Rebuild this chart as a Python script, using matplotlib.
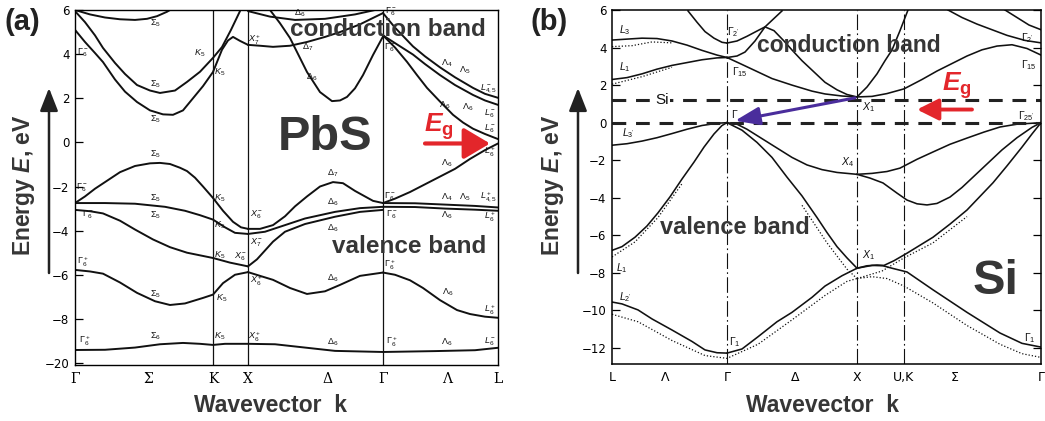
import matplotlib
matplotlib.use("Agg")
import matplotlib.pyplot as plt
from matplotlib.patches import FancyArrowPatch

plt.rcParams["font.family"] = ["Liberation Sans", "DejaVu Sans"]
plt.rcParams["mathtext.fontset"] = "custom"
plt.rcParams["mathtext.rm"] = "Liberation Sans"
plt.rcParams["mathtext.it"] = "Liberation Sans:italic"
plt.rcParams["mathtext.bf"] = "Liberation Sans:bold"
plt.rcParams["mathtext.bfit"] = "Liberation Sans:italic:bold"

# ── colours ────
INK    = "#111111"
LABEL  = "#363636"
RED    = "#e3262b"
PURPLE = "#4a2d9c"

# ── (a) PbS : k path Γ-Σ-K-X-Δ-Γ-Λ-L ────
pbs_kpts   = [0.0, 0.73, 1.38, 1.73, 2.52, 3.08, 3.72, 4.23]
pbs_klabel = ["Γ", "Σ", "K", "X", "Δ", "Γ", "Λ", "L"]
pbs_kvert  = [1.38, 1.73, 3.08]
pbs_yticks = [6, 4, 2, 0, -2, -4, -6, -8, -10]
pbs_ylabel = ["6", "4", "2", "0", "−2", "−4", "−6", "−8", "−20"]

# conduction bands (k, E)
pbs_c_sig_a = [(0.0, 6.0), (0.15, 5.8), (0.3, 5.66), (0.45, 5.58), (0.6, 5.55),
               (0.72, 5.6), (0.82, 5.72), (0.92, 5.92), (0.95, 6.0)]
pbs_c_sig_b = [(0.0, 5.95), (0.1, 5.45), (0.2, 4.85), (0.28, 4.28), (0.4, 3.6),
               (0.5, 3.1), (0.62, 2.6), (0.75, 2.35), (0.85, 2.24), (1.0, 2.35),
               (1.12, 2.74), (1.25, 3.2), (1.38, 3.83), (1.47, 4.32), (1.56, 5.1),
               (1.65, 5.95)]
pbs_c_sig_c = [(0.0, 5.1), (0.1, 4.55), (0.2, 4.05), (0.28, 3.64), (0.4, 2.85),
               (0.5, 2.3), (0.62, 1.83), (0.75, 1.45), (0.88, 1.27), (0.98, 1.25),
               (1.08, 1.45), (1.18, 2.0), (1.28, 2.55), (1.38, 3.19), (1.47, 4.2),
               (1.53, 4.62), (1.58, 4.78), (1.65, 4.6), (1.73, 4.42)]
pbs_c_x7    = [(1.73, 4.42), (1.85, 4.38), (1.98, 4.33), (2.15, 4.38), (2.32, 4.55),
               (2.5, 4.78), (2.65, 5.0), (2.85, 5.35), (2.98, 5.64), (3.08, 5.86)]
pbs_c_dtop  = [(1.73, 5.95), (1.95, 5.7), (2.2, 5.55), (2.5, 5.6), (2.8, 5.8),
               (3.0, 6.0)]
pbs_c_d6    = [(1.95, 6.0), (2.05, 5.4), (2.15, 4.73), (2.32, 3.19), (2.45, 2.28),
               (2.57, 1.87), (2.65, 1.9), (2.72, 2.06), (2.8, 2.45), (2.88, 3.05),
               (2.98, 3.96), (3.08, 4.8)]
pbs_c_l1    = [(3.08, 5.86), (3.2, 5.2), (3.38, 4.35), (3.5, 3.9), (3.65, 3.4),
               (3.8, 2.95), (3.98, 2.47), (4.1, 2.2), (4.23, 2.02)]
pbs_c_l2    = [(3.08, 4.85), (3.2, 4.5), (3.38, 3.98), (3.5, 3.55), (3.65, 3.05),
               (3.8, 2.6), (3.98, 2.15), (4.1, 1.9), (4.23, 1.7)]
pbs_c_l3    = [(3.08, 4.85), (3.2, 4.3), (3.32, 3.65), (3.42, 3.05), (3.52, 2.47),
               (3.65, 1.85), (3.78, 1.25), (3.88, 0.9), (3.98, 0.62), (4.1, 0.38),
               (4.23, 0.15)]

# valence bands (k, E)
pbs_v_sig1 = [(0.0, -2.75), (0.1, -2.45), (0.2, -2.1), (0.3, -1.8), (0.45, -1.35),
              (0.6, -1.07), (0.75, -0.95), (0.85, -0.93), (0.95, -0.98), (1.05, -1.15),
              (1.12, -1.3), (1.2, -1.6), (1.28, -2.0), (1.38, -2.52), (1.48, -3.1),
              (1.58, -3.6), (1.66, -3.85), (1.73, -3.92)]
pbs_v_sig2 = [(0.0, -2.75), (0.3, -2.75), (0.6, -2.78), (0.9, -2.92), (1.1, -3.1),
              (1.25, -3.3), (1.38, -3.5), (1.5, -3.85), (1.6, -4.1), (1.73, -4.15)]
pbs_v_sig3 = [(0.0, -3.06), (0.15, -3.12), (0.28, -3.22), (0.45, -3.55), (0.6, -3.95),
              (0.78, -4.4), (0.95, -4.75), (1.12, -5.0), (1.38, -5.24), (1.55, -5.45),
              (1.73, -5.62)]
pbs_v_sig4 = [(0.0, -5.78), (0.15, -5.85), (0.28, -5.95), (0.45, -6.35), (0.62, -6.82),
              (0.8, -7.2), (0.95, -7.37), (1.1, -7.3), (1.28, -7.05), (1.38, -6.9),
              (1.48, -6.38), (1.6, -6.0), (1.73, -5.88)]
pbs_v_deep = [(0.0, -9.41), (0.3, -9.4), (0.6, -9.3), (0.85, -9.15), (1.08, -9.09),
              (1.25, -9.13), (1.38, -9.18), (1.5, -9.13), (1.73, -9.13), (2.0, -9.15),
              (2.3, -9.3), (2.6, -9.45), (3.08, -9.5), (3.6, -9.46), (4.0, -9.42),
              (4.23, -9.31)]
pbs_v_d7   = [(1.73, -3.92), (1.85, -3.92), (1.98, -3.75), (2.1, -3.35), (2.2, -2.9),
              (2.32, -2.45), (2.45, -2.0), (2.58, -1.8), (2.68, -1.85), (2.8, -2.2),
              (2.98, -2.65), (3.08, -2.75)]
pbs_v_d6a  = [(1.73, -4.15), (1.9, -4.05), (2.1, -3.75), (2.3, -3.45), (2.6, -3.15),
              (2.85, -2.98), (3.08, -2.92)]
pbs_v_d6b  = [(1.73, -5.62), (1.82, -5.3), (1.9, -4.9), (1.98, -4.5), (2.1, -4.05),
              (2.3, -3.7), (2.6, -3.37), (2.85, -3.15), (3.08, -3.06)]
pbs_v_d6c  = [(1.73, -5.88), (1.85, -6.05), (1.98, -6.23), (2.15, -6.6), (2.32, -6.87),
              (2.5, -6.75), (2.65, -6.46), (2.85, -6.05), (3.08, -5.9)]
pbs_v_l1   = [(3.08, -2.75), (3.2, -2.55), (3.35, -2.25), (3.5, -1.9), (3.65, -1.55),
              (3.8, -1.2), (3.95, -0.75), (4.1, -0.35), (4.23, -0.05)]
pbs_v_l2   = [(3.08, -2.75), (3.4, -2.76), (3.7, -2.82), (4.0, -2.88), (4.23, -2.95)]
pbs_v_l3   = [(3.08, -2.92), (3.4, -2.93), (3.7, -3.0), (4.0, -3.05), (4.23, -3.1)]
pbs_v_l4   = [(3.08, -5.9), (3.2, -6.0), (3.35, -6.25), (3.48, -6.6), (3.65, -7.15),
              (3.82, -7.6), (3.95, -7.78), (4.1, -7.9), (4.23, -7.95)]

pbs_bands = [pbs_c_sig_a, pbs_c_sig_b, pbs_c_sig_c, pbs_c_x7, pbs_c_dtop, pbs_c_d6,
             pbs_c_l1, pbs_c_l2, pbs_c_l3, pbs_v_sig1, pbs_v_sig2, pbs_v_sig3,
             pbs_v_sig4, pbs_v_deep, pbs_v_d7, pbs_v_d6a, pbs_v_d6b, pbs_v_d6c,
             pbs_v_l1, pbs_v_l2, pbs_v_l3, pbs_v_l4]

pbs_tags = [
    (0.80, 5.38, r"$\Sigma_5$"), (0.08, 4.05, r"$\Gamma_6^-$"), (1.25, 4.05, r"$K_5$"),
    (1.45, 3.2, r"$K_5$"), (1.8, 4.65, r"$X_7^+$"), (0.80, 2.62, r"$\Sigma_5$"),
    (0.80, 1.05, r"$\Sigma_5$"), (0.80, -0.55, r"$\Sigma_5$"), (2.37, 2.96, r"$\Delta_6$"),
    (2.33, 4.3, r"$\Delta_7$"), (2.25, 5.85, r"$\Delta_6$"), (3.15, 4.3, r"$\Gamma_6^-$"),
    (3.16, 5.9, r"$\Gamma_6^-$"), (3.72, 3.6, r"$\Lambda_4$"), (3.9, 3.28, r"$\Lambda_5$"),
    (4.13, 2.45, r"$L_{4,5}^-$"), (3.7, 1.7, r"$\Lambda_6$"), (3.93, 1.6, r"$\Lambda_6$"),
    (4.15, 1.3, r"$L_6^-$"), (4.15, 0.62, r"$L_6^-$"), (4.15, -0.45, r"$L_6^+$"),
    (3.72, -0.93, r"$\Lambda_6$"), (2.58, -1.4, r"$\Delta_7$"), (3.15, -2.47, r"$\Gamma_6^-$"),
    (3.72, -2.47, r"$\Lambda_4$"), (3.9, -2.47, r"$\Lambda_5$"), (4.13, -2.47, r"$L_{4,5}^+$"),
    (0.07, -2.07, r"$\Gamma_6^-$"), (0.80, -2.52, r"$\Sigma_5$"), (1.45, -2.52, r"$K_5$"),
    (2.58, -2.72, r"$\Delta_6$"), (0.13, -3.3, r"$\Gamma_6^-$"), (0.80, -3.3, r"$\Sigma_5$"),
    (1.45, -3.74, r"$K_5$"), (1.82, -3.3, r"$X_6^-$"), (2.58, -3.88, r"$\Delta_6$"),
    (3.17, -3.3, r"$\Gamma_6^-$"), (3.72, -3.3, r"$\Lambda_6$"), (4.15, -3.4, r"$L_6^+$"),
    (1.82, -4.56, r"$X_7^-$"), (1.45, -5.1, r"$K_5$"), (1.66, -5.2, r"$X_6^-$"),
    (0.08, -5.42, r"$\Gamma_6^+$"), (1.82, -6.3, r"$X_6^+$"), (2.58, -6.15, r"$\Delta_6$"),
    (3.15, -5.55, r"$\Gamma_6^+$"), (3.73, -6.78, r"$\Lambda_6$"), (0.80, -6.9, r"$\Sigma_5$"),
    (1.47, -7.05, r"$K_5$"), (4.15, -7.6, r"$L_6^+$"), (0.10, -9.0, r"$\Gamma_6^+$"),
    (0.80, -8.8, r"$\Sigma_6$"), (1.45, -8.8, r"$K_5$"), (1.8, -8.8, r"$X_6^+$"),
    (2.58, -9.05, r"$\Delta_6$"), (3.17, -9.05, r"$\Gamma_6^+$"), (3.72, -9.05, r"$\Lambda_6$"),
    (4.15, -9.05, r"$L_6^-$"),
]

# ── (b) Si : k path L-Λ-Γ-Δ-X-U,K-Σ-Γ ────
si_kpts   = [0.0, 0.53, 1.15, 1.83, 2.45, 2.92, 3.43, 4.29]
si_klabel = ["L", "Λ", "Γ", "Δ", "X", "U,K", "Σ", "Γ"]
si_kvert  = [1.15, 2.45, 2.92]
si_yticks = [6, 4, 2, 0, -2, -4, -6, -8, -10, -12]
si_ylabel = ["6", "4", "2", "0", "−2", "−4", "−6", "−8", "−10", "−12"]
si_gap_top = 1.2
si_gap_bottom = 0.0

si_c_l3    = [(0.0, 4.4), (0.15, 4.45), (0.3, 4.5), (0.45, 4.48), (0.6, 4.35),
              (0.75, 4.13), (0.9, 3.85), (1.05, 3.6), (1.15, 3.47)]
si_c_l1    = [(0.0, 2.3), (0.15, 2.4), (0.3, 2.6), (0.45, 2.85), (0.6, 3.05),
              (0.75, 3.2), (0.9, 3.35), (1.05, 3.45), (1.15, 3.47)]
si_c_g2l   = [(0.76, 5.95), (0.85, 5.35), (0.93, 4.85), (1.02, 4.5), (1.1, 4.28),
              (1.15, 4.24)]
si_c_g2r   = [(1.15, 4.24), (1.25, 4.35), (1.35, 4.6), (1.45, 4.88), (1.53, 5.1),
              (1.62, 4.9), (1.72, 4.35), (1.8, 3.87), (1.9, 3.3), (2.0, 2.8),
              (2.13, 2.15), (2.25, 1.75), (2.35, 1.5), (2.45, 1.37)]
si_c_up    = [(1.15, 3.47), (1.25, 3.55), (1.33, 3.76), (1.43, 4.35), (1.53, 5.1),
              (1.62, 5.55), (1.7, 5.95)]
si_c_xg    = [(1.15, 3.47), (1.28, 3.15), (1.46, 2.7), (1.6, 2.35), (1.8, 2.0),
              (2.0, 1.68), (2.13, 1.53), (2.3, 1.42), (2.45, 1.37)]
si_c_xu    = [(2.45, 1.37), (2.55, 1.9), (2.65, 2.6), (2.73, 3.3), (2.8, 3.87),
              (2.88, 4.9), (2.96, 6.0)]
si_c_sig   = [(2.45, 1.37), (2.6, 1.4), (2.75, 1.55), (2.92, 1.8), (3.1, 2.3),
              (3.25, 2.75), (3.4, 3.15), (3.55, 3.55), (3.7, 3.88), (3.85, 4.08),
              (4.0, 4.15), (4.15, 3.95), (4.29, 3.6)]
si_c_top1  = [(3.36, 6.0), (3.5, 5.6), (3.65, 5.25), (3.8, 4.95), (3.95, 4.65),
              (4.13, 4.38), (4.29, 4.25)]
si_c_top2  = [(3.93, 6.0), (4.05, 5.6), (4.17, 5.2), (4.29, 4.95)]

si_v_l3    = [(0.0, -1.2), (0.15, -1.12), (0.3, -0.98), (0.45, -0.8), (0.6, -0.58),
              (0.75, -0.35), (0.9, -0.15), (1.05, -0.03), (1.15, 0.0)]
si_v_l1    = [(0.0, -6.8), (0.1, -6.6), (0.23, -6.1), (0.35, -5.5), (0.46, -4.8),
              (0.58, -3.95), (0.7, -3.0), (0.82, -2.1), (0.92, -1.3), (1.02, -0.6),
              (1.1, -0.15), (1.15, 0.0)]
si_v_lg1   = [(0.0, -9.55), (0.1, -9.65), (0.26, -9.97), (0.4, -10.45), (0.6, -11.04),
              (0.8, -11.65), (0.93, -12.1), (1.05, -12.25), (1.15, -12.27)]
si_v_gx1   = [(1.15, -12.27), (1.3, -12.05), (1.46, -11.4), (1.65, -10.6), (1.8, -10.1),
              (2.0, -9.3), (2.13, -8.7), (2.3, -8.15), (2.45, -7.75)]
si_v_steep = [(1.15, 0.0), (1.3, -0.4), (1.45, -1.05), (1.6, -1.85), (1.75, -2.9),
              (1.9, -3.9), (2.05, -5.05), (2.15, -5.85), (2.25, -6.6), (2.35, -7.2),
              (2.45, -7.75)]
si_v_gx4   = [(1.15, 0.0), (1.25, -0.08), (1.35, -0.35), (1.5, -0.85), (1.65, -1.35),
              (1.8, -1.85), (1.95, -2.25), (2.1, -2.5), (2.25, -2.65), (2.45, -2.75)]
si_v_xk_up = [(2.45, -2.75), (2.6, -2.7), (2.75, -2.6), (2.88, -2.42), (3.05, -1.95),
              (3.21, -1.56), (3.38, -1.15), (3.55, -0.82), (3.72, -0.5), (3.88, -0.23),
              (4.05, -0.08), (4.29, 0.0)]
si_v_xk_lo = [(2.45, -2.75), (2.58, -2.95), (2.71, -3.21), (2.85, -3.75), (2.95, -4.12),
              (3.05, -4.32), (3.15, -4.38), (3.25, -4.3), (3.38, -3.96), (3.5, -3.45),
              (3.61, -2.9), (3.75, -2.2), (3.9, -1.45), (4.05, -0.8), (4.2, -0.25),
              (4.29, 0.0)]
si_v_x1_up = [(2.45, -7.75), (2.55, -7.62), (2.65, -7.58), (2.72, -7.6), (2.82, -7.35),
              (2.95, -6.95), (3.21, -6.1), (3.38, -5.4), (3.55, -4.65), (3.81, -3.2),
              (3.95, -2.3), (4.1, -1.3), (4.2, -0.6), (4.29, 0.0)]
si_v_x1_lo = [(2.45, -7.75), (2.6, -7.6), (2.71, -7.62), (2.8, -7.75), (2.95, -7.95),
              (3.21, -8.9), (3.55, -10.1), (3.88, -11.2), (4.1, -11.75), (4.29, -11.95)]

si_bands = [si_c_l3, si_c_l1, si_c_g2l, si_c_g2r, si_c_up, si_c_xg, si_c_xu, si_c_sig,
            si_c_top1, si_c_top2, si_v_l3, si_v_l1, si_v_lg1, si_v_gx1, si_v_steep,
            si_v_gx4, si_v_xk_up, si_v_xk_lo, si_v_x1_up, si_v_x1_lo]

# dotted comparison curves
si_d_low_l = [(0.0, -10.2), (0.26, -10.6), (0.6, -11.6), (0.93, -12.4), (1.15, -12.55),
              (1.46, -11.8), (1.8, -10.5), (2.13, -9.2), (2.35, -8.45), (2.45, -8.3)]
si_d_low_r = [(2.45, -8.3), (2.6, -8.2), (2.75, -8.3), (2.92, -8.7), (3.21, -9.6),
              (3.55, -10.8), (3.88, -11.8), (4.1, -12.3), (4.29, -12.5)]
si_d_l1    = [(0.0, -7.15), (0.23, -6.35), (0.46, -5.05), (0.7, -3.25)]
si_d_steep = [(1.9, -4.4), (2.15, -6.4), (2.35, -7.8), (2.45, -8.3)]
si_d_x1_up = [(2.45, -8.3), (2.7, -7.9), (2.92, -7.2), (3.21, -6.4), (3.55, -5.0)]
si_d_c_l3  = [(0.0, 4.05), (0.2, 4.1), (0.4, 4.3), (0.6, 4.25)]
si_d_c_l1  = [(0.0, 2.05), (0.3, 2.45), (0.6, 2.95)]
si_dotted = [si_d_low_l, si_d_low_r, si_d_l1, si_d_steep, si_d_x1_up, si_d_c_l3, si_d_c_l1]

si_tags = [
    (0.13, 4.93, r"$L_3$"), (0.13, 2.96, r"$L_1$"), (1.21, 4.83, r"$\Gamma_{2'}$"),
    (1.28, 2.7, r"$\Gamma_{15}$"), (0.16, -0.55, r"$L_{3'}$"), (4.15, 4.5, r"$\Gamma_{2'}$"),
    (4.17, 3.07, r"$\Gamma_{15}$"), (2.56, 0.83, r"$X_1$"), (4.14, 0.36, r"$\Gamma_{25'}$"),
    (2.35, -2.1, r"$X_4$"), (0.1, -7.74, r"$L_1$"), (0.13, -9.3, r"$L_{2'}$"),
    (1.23, -11.7, r"$\Gamma_1$"), (2.56, -7.05, r"$X_1$"), (4.18, -11.45, r"$\Gamma_1$"),
    (1.23, 0.45, r"$\Gamma$"),
]


def fx(x):
    return x / 1045


def fy(y):
    return 1 - y / 421


def plot_band(ax, band, **kw):
    ks = [p[0] for p in band]
    es = [p[1] for p in band]
    ax.plot(ks, es, **kw)


fig = plt.figure(figsize=(10.45, 4.21), dpi=100)
fig.patch.set_facecolor("white")

ax_a = fig.add_axes([fx(75), fy(365), fx(423), 355 / 421])
ax_b = fig.add_axes([fx(612), fy(364), fx(429), 354 / 421])

# ── panel (a) ────
for band in pbs_bands:
    plot_band(ax_a, band, color=INK, lw=1.4, solid_capstyle="round")
for k in pbs_kvert:
    ax_a.axvline(k, color=INK, lw=0.9)
for k, e, t in pbs_tags:
    ax_a.text(k, e, t, fontsize=6.5, color=INK, ha="center", va="center")

ax_a.set_xlim(0, 4.23)
ax_a.set_ylim(-10.09, 6)
ax_a.set_xticks(pbs_kpts, pbs_klabel, family="DejaVu Serif", fontsize=10)
ax_a.set_yticks(pbs_yticks, pbs_ylabel, family="DejaVu Sans", fontsize=8.5)
ax_a.tick_params(axis="x", length=0, pad=5)
ax_a.tick_params(axis="y", direction="in", length=6, width=0.9, pad=4)
for s in ax_a.spines.values():
    s.set_linewidth(1.0)

ax_a.text(0.59, 0.642, "PbS", transform=ax_a.transAxes, fontsize=35, weight="bold",
          color=LABEL, ha="center", va="center")
ax_a.annotate("", xy=(4.15, -0.05), xytext=(3.5, -0.05),
              arrowprops=dict(arrowstyle="-|>,head_length=1.6,head_width=0.95",
                              lw=3, color=RED, shrinkA=0, shrinkB=0))
ax_a.text(3.64, 0.72, r"$\mathbfit{E}_{\mathbf{g}}$", fontsize=19, color=RED,
          ha="center", va="center")

# ── panel (b) ────
for band in si_dotted:
    plot_band(ax_b, band, color=INK, lw=0.9, ls=(0, (1, 1.6)))
for band in si_bands:
    plot_band(ax_b, band, color=INK, lw=1.15)
for k in si_kvert:
    ax_b.axvline(k, color=INK, lw=0.8, ls=(0, (14, 3, 1.5, 3)))
for e in (si_gap_top, si_gap_bottom):
    ax_b.axhline(e, color="#222222", lw=2.2, ls=(0, (4.5, 3.2)))
for k, e, t in si_tags:
    ax_b.text(k, e, t, fontsize=7.5, color=INK, ha="center", va="center")
ax_b.text(0.5, si_gap_top, "Si", fontsize=11, color=INK, ha="center", va="center",
          bbox=dict(facecolor="white", edgecolor="none", pad=0.5))

ax_b.set_xlim(0, 4.29)
ax_b.set_ylim(-12.85, 6)
ax_b.set_xticks(si_kpts, si_klabel, family="DejaVu Sans", fontsize=9)
ax_b.set_yticks(si_yticks, si_ylabel, family="DejaVu Sans", fontsize=8.5)
ax_b.tick_params(axis="x", length=0, pad=5)
ax_b.tick_params(axis="y", direction="in", length=6, width=0.9, pad=4, right=True)
for s in ax_b.spines.values():
    s.set_linewidth(1.1)

ax_b.annotate("", xy=(1.23, 0.1), xytext=(2.43, 1.32),
              arrowprops=dict(arrowstyle="-|>,head_length=1.5,head_width=0.55",
                              lw=2.2, color=PURPLE, shrinkA=0, shrinkB=0))
ax_b.annotate("", xy=(3.05, 0.7), xytext=(3.6, 0.7),
              arrowprops=dict(arrowstyle="-|>,head_length=1.3,head_width=0.65",
                              lw=2.8, color=RED, shrinkA=0, shrinkB=0))
ax_b.text(3.45, 1.95, r"$\mathbfit{E}_{\mathbf{g}}$", fontsize=19, color=RED,
          ha="center", va="center")
ax_b.text(0.895, 0.234, "Si", transform=ax_b.transAxes, fontsize=35, weight="bold",
          color=LABEL, ha="center", va="center")

# ── figure texts ────
fig.text(fx(388), fy(30), "conduction band", fontsize=17.5, weight="bold",
         color=LABEL, ha="center", va="center")
fig.text(fx(409), fy(247), "valence band", fontsize=17.5, weight="bold",
         color=LABEL, ha="center", va="center")
fig.text(fx(849), fy(46), "conduction band", fontsize=16.5, weight="bold",
         color=LABEL, ha="center", va="center")
fig.text(fx(735), fy(228), "valence band", fontsize=17, weight="bold",
         color=LABEL, ha="center", va="center")

for x, tag in ((5, "(a)"), (530, "(b)")):
    fig.text(fx(x), fy(22), tag, fontsize=21, weight="bold", color="#222222",
             ha="left", va="center")

for x_lab, x_arr, x_wv in ((24, 49, 270), (553, 578, 822)):
    fig.text(fx(x_lab), fy(185), r"Energy $\mathbfit{E}$, eV", fontsize=16.5,
             weight="bold", color=LABEL, rotation=90, ha="center", va="center")
    fig.add_artist(FancyArrowPatch((fx(x_arr), fy(273)), (fx(x_arr), fy(88)),
                                   transform=fig.transFigure,
                                   arrowstyle="-|>,head_length=1.4,head_width=0.55",
                                   mutation_scale=10, lw=1.8, color="#222222",
                                   shrinkA=0, shrinkB=0))
    fig.text(fx(x_wv), fy(405), "Wavevector  k", fontsize=16.5, weight="bold",
             color=LABEL, ha="center", va="center")

fig.savefig("out.png", dpi=100, facecolor="white")
